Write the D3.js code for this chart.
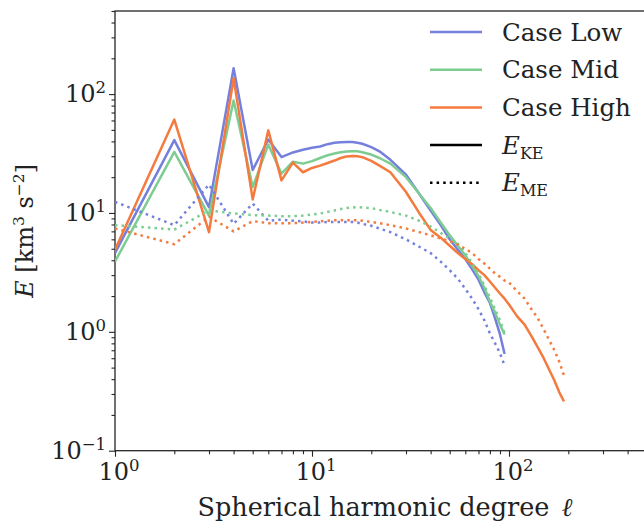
<!DOCTYPE html>
<html>
<head>
<meta charset="utf-8">
<script src="https://cdnjs.cloudflare.com/ajax/libs/d3/7.8.5/d3.min.js"></script>
<style>
  body { margin: 0; background: #fff; }
  svg { display: block; font-family: "DejaVu Serif", serif; }
</style>
</head>
<body>
<div id="chart"></div>
<script>
// spectra

var degLow = [1,2,3,4,5,6,7,8,9,10,11,12,13,14,15,16,17,18,20,22,25,30,35,40,45,50,55,60,65,70,75,80,85,90,95];
var degHigh = degLow.concat([100,110,120,130,140,150,160,170,180,190]);

var keLow = [4.6,41,11.2,165,23,41.5,29.5,32.3,34,35.4,36.2,37.9,38.9,39.3,39.5,39.6,39,38.2,35.8,33,28,21,14.5,10.5,7.9,6.0,4.9,4.1,3.35,2.75,2.15,1.75,1.3,0.95,0.65];
var keMid = [3.9,32.6,9.5,88.5,16.5,37.6,21.4,27,26,27.3,29,30.6,31.6,32.4,32.9,33.1,33.1,32.4,31,29,26,20,14.5,11,8.3,6.5,5.3,4.4,3.6,2.95,2.35,1.8,1.45,1.15,0.95];
var keHigh = [4.9,61,6.9,136,13,49.5,18.8,26.5,22,23.9,25,26.3,27.6,29,29.9,30.1,30,29.5,27.4,25,22,15,10,7.2,6.2,5.3,4.6,4.1,3.7,3.3,3.0,2.65,2.35,2.1,1.9,1.7,1.35,1.15,0.92,0.74,0.6,0.48,0.39,0.31,0.26];

var meLow = [12.4,7.9,17.3,8.1,12,8.6,8.8,8.6,8.5,8.3,8.3,8.4,8.4,8.4,8.4,8.4,8.3,8.1,7.8,7.4,6.9,6.0,5.2,4.6,3.9,3.3,2.8,2.3,1.9,1.55,1.25,0.97,0.8,0.66,0.52];
var meMid = [7.9,7.25,10.5,9.9,9.6,9.5,9.4,9.4,9.5,9.7,9.9,10.2,10.5,10.8,11,11.1,11.2,11.1,11,10.6,10.2,9.5,8.6,7.7,6.8,6.1,5.5,4.6,3.8,3.1,2.45,1.95,1.55,1.25,0.97];
var meHigh = [7.4,5.46,9.3,7.0,8.55,8.2,8.2,8.2,8.3,8.4,8.5,8.6,8.7,8.7,8.7,8.7,8.7,8.6,8.4,8.2,7.9,7.4,6.9,6.5,6.1,5.8,5.4,5.0,4.6,4.1,3.75,3.4,3.1,2.9,2.7,2.6,2.2,1.9,1.55,1.3,1.05,0.85,0.7,0.56,0.43];

var caseNames = ['Case Low', 'Case Mid', 'Case High'];
var caseColors = ['#7580dd', '#7dcd92', '#f47a3e'];

var xMajor = [1, 10, 100];
var yMajor = [0.1, 1, 10, 100];

var opts = {
  width: 644,
  height: 523,
  left: 115,
  top: 11,
  right: 646.7,
  bottom: 450.7
};

var svg = d3.select('#chart').append('svg')
  .attr('width', opts.width)
  .attr('height', opts.height);

var x = d3.scaleLog().domain([1, 500]).range([opts.left, opts.right]);
var y = d3.scaleLog().domain([0.1, 500]).range([opts.bottom, opts.top]);

var minorTicks = function(lo, hi) {
  var out = [];
  for (var p = -2; p <= 3; p++) {
    for (var m = 2; m <= 9; m++) {
      var v = m * Math.pow(10, p);
      if (v >= lo * 0.999 && v <= hi * 1.001) out.push(v);
    }
  }
  return out;
};

// axes: major + minor ticks, labels drawn by hand below
var xAxisG = svg.append('g').attr('transform', 'translate(0,' + opts.bottom + ')');
xAxisG.call(d3.axisBottom(x).tickValues(xMajor).tickFormat('').tickSizeInner(6).tickSizeOuter(0));
xAxisG.append('g').call(d3.axisBottom(x).tickValues(minorTicks(1, 500)).tickFormat('').tickSizeInner(3.5).tickSizeOuter(0));

var yAxisG = svg.append('g').attr('transform', 'translate(' + opts.left + ',0)');
yAxisG.call(d3.axisLeft(y).tickValues(yMajor).tickFormat('').tickSizeInner(6).tickSizeOuter(0));
yAxisG.append('g').call(d3.axisLeft(y).tickValues(minorTicks(0.1, 500)).tickFormat('').tickSizeInner(3.5).tickSizeOuter(0));

svg.selectAll('.domain').remove();
svg.selectAll('.tick line').attr('stroke', '#262626').attr('stroke-width', 1.1);

// frame
svg.append('rect')
  .attr('x', opts.left).attr('y', opts.top)
  .attr('width', opts.right - opts.left).attr('height', opts.bottom - opts.top)
  .attr('fill', 'none').attr('stroke', '#262626').attr('stroke-width', 1.3);

var expOf = function(v) { return Math.round(Math.log10(v)); };
var powLabel = function(sel) {
  sel.append('tspan').text('10');
  sel.append('tspan').attr('dy', -9).attr('font-size', 16.5)
    .text(function(d) { var e = expOf(d); return e < 0 ? '\u2212' + (-e) : '' + e; });
};

svg.selectAll('text.xlab').data(xMajor).enter().append('text')
  .attr('class', 'xlab')
  .attr('x', function(d) { return x(d) + 4; })
  .attr('y', opts.bottom + 29)
  .attr('text-anchor', 'middle')
  .attr('font-size', 24)
  .attr('fill', '#222')
  .call(powLabel);

svg.selectAll('text.ylab').data(yMajor).enter().append('text')
  .attr('class', 'ylab')
  .attr('x', opts.left - 9)
  .attr('y', function(d) { return y(d) + 8; })
  .attr('text-anchor', 'end')
  .attr('font-size', 24)
  .attr('fill', '#222')
  .call(powLabel);

// axis titles
var xt = svg.append('text')
  .attr('x', (opts.left + opts.right) / 2 + 4)
  .attr('y', 516)
  .attr('text-anchor', 'middle')
  .attr('font-size', 25.5)
  .attr('fill', '#222');
xt.append('tspan').text('Spherical harmonic degree ');
xt.append('tspan').attr('font-style', 'italic').attr('dx', 4).text('\u2113');

var yt = svg.append('text')
  .attr('transform', 'translate(33,' + (opts.top + opts.bottom) / 2 + ') rotate(-90)')
  .attr('text-anchor', 'middle')
  .attr('font-size', 24)
  .attr('fill', '#222');
yt.append('tspan').attr('font-style', 'italic').text('E');
yt.append('tspan').text(' [km');
yt.append('tspan').attr('dy', -9).attr('font-size', 15.5).text('3');
yt.append('tspan').attr('dy', 9).text(' s');
yt.append('tspan').attr('dy', -9).attr('font-size', 15.5).text('\u22122');
yt.append('tspan').attr('dy', 9).text(']');

// series
var series = [
  { deg: degLow, vals: keLow, color: caseColors[0], dotted: false },
  { deg: degLow, vals: keMid, color: caseColors[1], dotted: false },
  { deg: degHigh, vals: keHigh, color: caseColors[2], dotted: false },
  { deg: degLow, vals: meLow, color: caseColors[0], dotted: true },
  { deg: degLow, vals: meMid, color: caseColors[1], dotted: true },
  { deg: degHigh, vals: meHigh, color: caseColors[2], dotted: true }
];

var line = d3.line()
  .x(function(d) { return x(d[0]); })
  .y(function(d) { return y(d[1]); });

svg.append('defs').append('clipPath').attr('id', 'plotclip')
  .append('rect')
  .attr('x', opts.left).attr('y', opts.top)
  .attr('width', opts.right - opts.left).attr('height', opts.bottom - opts.top);

var plot = svg.append('g').attr('clip-path', 'url(#plotclip)');

plot.selectAll('path.series').data(series).enter().append('path')
  .attr('class', 'series')
  .attr('d', function(s) { return line(d3.zip(s.deg, s.vals)); })
  .attr('fill', 'none')
  .attr('stroke', function(s) { return s.color; })
  .attr('stroke-width', 2.5)
  .attr('stroke-linejoin', 'round')
  .attr('stroke-dasharray', function(s) { return s.dotted ? '2.5,4.1' : null; });

// legend
var legendItems = [
  { label: caseNames[0], color: caseColors[0], dotted: false },
  { label: caseNames[1], color: caseColors[1], dotted: false },
  { label: caseNames[2], color: caseColors[2], dotted: false },
  { label: 'KE', color: '#000', dotted: false, energy: true },
  { label: 'ME', color: '#000', dotted: true, energy: true }
];

var leg = svg.append('g');
var rowY = function(i) { return 32 + i * 37.7; };

leg.selectAll('line').data(legendItems).enter().append('line')
  .attr('x1', 430).attr('x2', 482)
  .attr('y1', function(d, i) { return rowY(i); })
  .attr('y2', function(d, i) { return rowY(i); })
  .attr('stroke', function(d) { return d.color; })
  .attr('stroke-width', 2.5)
  .attr('stroke-dasharray', function(d) { return d.dotted ? '2.5,4.1' : null; });

leg.selectAll('text').data(legendItems).enter().append('text')
  .attr('x', 502)
  .attr('y', function(d, i) { return rowY(i) + 8.5; })
  .attr('font-size', 24.5)
  .attr('fill', '#222')
  .each(function(d) {
    var t = d3.select(this);
    if (d.energy) {
      t.append('tspan').attr('font-style', 'italic').text('E');
      t.append('tspan').attr('dy', 5).attr('font-size', 16).text(d.label);
    } else {
      t.text(d.label);
    }
  });
</script>
</body>
</html>
